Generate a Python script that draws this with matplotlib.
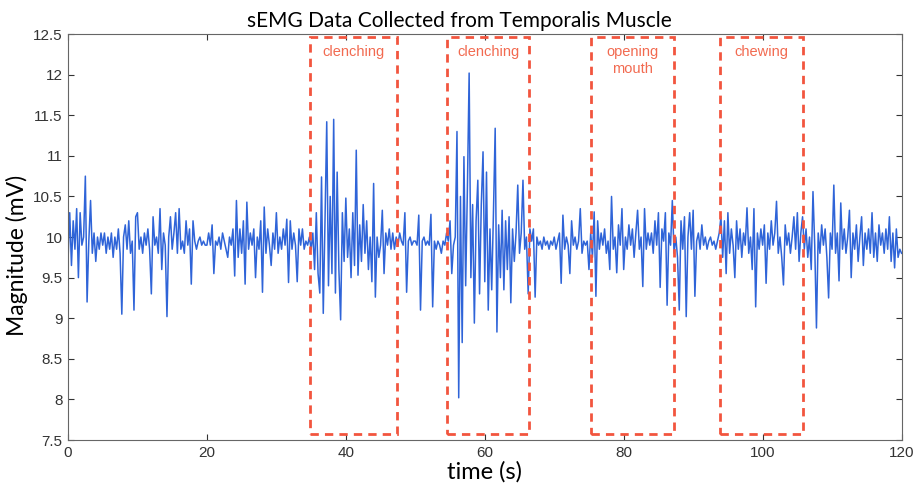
import numpy as np
import matplotlib
matplotlib.use("Agg")
import matplotlib.pyplot as plt
from matplotlib.patches import Rectangle

mv_00_10 = [9.7, 10.3, 9.65, 10.2, 9.85, 10.35, 9.5, 10.3, 9.9, 10.0,
            10.75, 9.2, 9.95, 10.45, 9.8, 10.05, 9.7, 10.0, 9.85, 10.05,
            9.9, 10.05, 9.8, 10.0, 9.85, 10.05, 9.75, 10.0, 9.85, 10.1,
            9.8, 9.05, 10.0, 10.15, 9.85, 10.2, 9.8, 9.95, 9.1, 10.25]
mv_10_20 = [10.3, 9.85, 10.0, 9.8, 10.05, 9.9, 10.1, 9.85, 9.3, 10.25,
            9.9, 10.0, 9.8, 10.35, 9.6, 10.05, 9.9, 9.02, 10.0, 10.25,
            9.85, 10.05, 10.3, 9.8, 10.35, 9.85, 9.95, 9.8, 10.2, 9.9,
            10.1, 9.42, 10.2, 9.95, 9.85, 9.95, 10.0, 9.9, 9.95, 9.9]
mv_20_30 = [9.9, 10.05, 9.9, 10.15, 9.55, 9.95, 9.9, 10.0, 9.85, 10.05,
            9.95, 9.85, 9.75, 10.0, 9.9, 10.1, 9.52, 10.45, 9.75, 10.1,
            9.8, 10.2, 9.42, 10.43, 9.85, 10.05, 9.9, 10.1, 9.5, 10.0,
            9.85, 10.2, 9.32, 10.37, 9.8, 10.1, 9.9, 9.65, 10.05, 9.85]
mv_30_40 = [10.3, 9.8, 10.0, 9.85, 10.1, 9.9, 10.22, 9.44, 10.2, 9.85,
            10.05, 9.9, 9.45, 10.1, 9.9, 10.1, 9.85, 9.95, 9.9, 10.0,
            9.85, 10.05, 9.6, 10.3, 9.55, 9.31, 10.74, 9.06, 10.2, 11.42,
            9.4, 10.5, 9.55, 11.45, 9.31, 10.8, 9.6, 8.98, 10.3, 9.7]
mv_40_50 = [10.48, 9.75, 10.1, 9.5, 10.3, 9.65, 11.07, 9.53, 10.15, 9.7,
            10.4, 9.8, 10.2, 9.6, 10.0, 9.45, 10.66, 9.26, 10.0, 9.75,
            9.9, 10.33, 9.55, 10.05, 9.9, 10.1, 9.85, 10.05, 9.85, 10.0,
            9.9, 10.05, 9.95, 9.9, 10.3, 9.32, 9.95, 10.0, 9.9, 9.95]
mv_50_60 = [9.95, 9.9, 10.27, 9.1, 9.95, 10.0, 9.9, 9.95, 9.9, 10.28,
            9.14, 9.95, 9.85, 9.95, 9.9, 9.8, 9.95, 9.9, 10.05, 9.95,
            10.2, 9.55, 9.9, 10.0, 11.3, 8.02, 10.5, 8.7, 10.99, 9.4,
            10.6, 12.02, 9.5, 10.4, 8.94, 10.2, 10.7, 9.3, 10.4, 11.05]
mv_60_70 = [9.45, 10.8, 9.1, 10.1, 9.35, 10.3, 11.34, 8.83, 10.15, 9.5,
            10.33, 9.35, 10.2, 9.6, 10.25, 9.19, 10.1, 9.7, 10.05, 10.64,
            9.8, 10.05, 10.7, 9.85, 10.0, 9.3, 10.1, 9.95, 10.1, 9.26,
            10.0, 9.9, 9.95, 9.85, 10.0, 9.9, 9.95, 9.85, 9.95, 9.9]
mv_70_80 = [10.0, 9.85, 9.95, 10.05, 9.43, 10.27, 9.85, 10.0, 9.9, 9.55,
            10.2, 9.9, 10.0, 9.85, 9.95, 10.35, 9.8, 9.95, 9.9, 9.95,
            9.6, 10.05, 9.75, 10.31, 9.27, 10.2, 9.85, 10.05, 9.9, 10.1,
            9.8, 9.95, 9.6, 10.5, 9.85, 10.0, 9.56, 10.15, 9.9, 10.35]
mv_80_90 = [9.6, 10.0, 9.85, 10.15, 9.9, 10.1, 9.75, 10.05, 10.33, 9.85,
            10.0, 9.39, 10.35, 9.85, 10.05, 9.9, 10.05, 9.8, 10.2, 9.9,
            10.3, 9.38, 10.1, 9.95, 10.3, 9.16, 10.05, 9.9, 10.45, 9.8,
            10.0, 9.75, 9.1, 10.2, 9.85, 10.25, 9.02, 10.0, 10.3, 9.85]
mv_90_100 = [10.33, 9.27, 9.95, 10.05, 9.85, 10.15, 9.9, 10.0, 9.85, 9.95,
             10.0, 9.9, 9.95, 9.85, 9.95, 10.05, 10.25, 9.75, 10.2, 9.55,
             10.3, 9.8, 10.1, 9.9, 9.5, 10.2, 9.85, 10.1, 9.75, 10.05,
             9.9, 10.36, 9.8, 10.0, 9.6, 10.35, 9.14, 10.05, 9.85, 10.1]
mv_100_110 = [9.9, 10.15, 9.43, 10.05, 9.85, 10.2, 9.9, 10.05, 10.44, 9.8,
              10.0, 9.75, 9.41, 10.15, 9.9, 10.05, 9.8, 10.0, 10.25, 9.85,
              10.3, 9.7, 10.05, 10.25, 9.85, 10.1, 9.75, 10.0, 9.6, 10.56,
              9.9, 8.88, 10.05, 9.8, 10.15, 9.9, 10.1, 9.75, 9.25, 10.05]
mv_110_120 = [9.85, 10.64, 9.8, 10.05, 9.46, 10.42, 9.85, 10.1, 9.8, 10.0,
              10.33, 9.5, 10.05, 9.85, 10.15, 9.7, 10.0, 10.25, 9.65, 10.05,
              9.85, 10.1, 9.8, 10.3, 9.75, 10.05, 9.7, 10.15, 9.9, 10.05,
              9.8, 10.1, 9.85, 10.25, 9.7, 10.05, 9.62, 10.1, 9.75, 9.85, 9.8]

mv = (mv_00_10 + mv_10_20 + mv_20_30 + mv_30_40 + mv_40_50 + mv_50_60
      + mv_60_70 + mv_70_80 + mv_80_90 + mv_90_100 + mv_100_110 + mv_110_120)
t = np.linspace(0, 120, len(mv))

# annotated events (start, end in s)
event_labels = ["clenching", "clenching", "opening\nmouth", "chewing"]
event_start = [34.8, 54.6, 75.3, 93.8]
event_end = [47.4, 66.4, 87.2, 105.8]

fig = plt.figure(figsize=(9.15, 4.87), dpi=100)
ax = fig.add_axes([0.0743, 0.0965, 0.911, 0.8335])

ax.plot(t, mv, color="#2f64d8", linewidth=1.1)

for lab, x0, x1 in zip(event_labels, event_start, event_end):
    ax.add_patch(Rectangle((x0, 7.57), x1 - x0, 12.46 - 7.57, fill=False,
                           edgecolor="#f2553e", linewidth=2.0,
                           linestyle=(0, (3, 2.2)), zorder=3))
    ax.text((x0 + x1) / 2, 12.37, lab, color="#f26a50", fontsize=10.5,
            ha="center", va="top", linespacing=1.35,
            family="Liberation Sans")

ax.set_xlim(0, 120)
ax.set_ylim(7.5, 12.5)
ax.set_xticks(np.arange(0, 121, 20))
ax.set_yticks(np.arange(7.5, 12.51, 0.5))
ax.set_yticklabels(["7.5", "8", "8.5", "9", "9.5", "10", "10.5", "11",
                    "11.5", "12", "12.5"])
ax.tick_params(direction="in", top=True, right=True, length=4,
               labelsize=11, colors="#333333", pad=4)
for lab in ax.get_xticklabels() + ax.get_yticklabels():
    lab.set_family("Liberation Sans")
for s in ax.spines.values():
    s.set_color("#666666")
    s.set_linewidth(0.8)

ax.set_title("sEMG Data Collected from Temporalis Muscle", fontsize=15,
             family="Lato", pad=5, x=0.47)
ax.set_xlabel("time (s)", fontsize=17, family="Lato", labelpad=1)
ax.set_ylabel("Magnitude (mV)", fontsize=16.5, family="Lato")
ax.yaxis.set_label_coords(-0.048, 0.455)

fig.savefig("out.png", dpi=100)
